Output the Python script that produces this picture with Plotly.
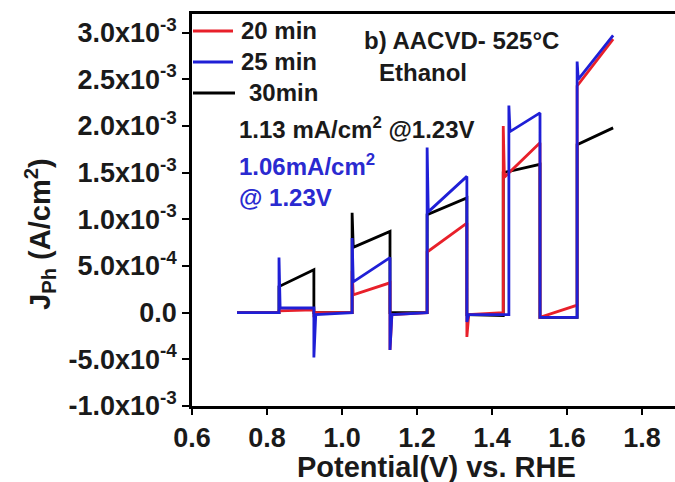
import plotly.graph_objects as go

# ---- data (x in V vs RHE, y in units of 1e-3 A/cm^2) ----
x_20 = [0.72, 0.832, 0.832, 0.925, 0.925, 0.930, 1.027, 1.027, 1.030, 1.128, 1.128, 1.133,
        1.227, 1.227, 1.333, 1.333, 1.338, 1.430, 1.430, 1.433, 1.528, 1.528, 1.627, 1.627, 1.723]
y_20 = [0.0, 0.0, 0.02, 0.03, -0.05, 0.0, 0.0, 0.45, 0.19, 0.32, -0.40, -0.02,
        0.0, 0.65, 0.96, -0.26, -0.02, 0.0, 2.00, 1.45, 1.82, -0.05, 0.08, 2.43, 2.93]

x_25 = [0.72, 0.832, 0.832, 0.835, 0.925, 0.925, 0.930, 1.027, 1.027, 1.030, 1.128, 1.128, 1.133,
        1.227, 1.227, 1.230, 1.333, 1.333, 1.338, 1.445, 1.445, 1.448, 1.528, 1.528, 1.627, 1.627,
        1.630, 1.723]
y_25 = [0.0, 0.0, 0.59, 0.05, 0.05, -0.48, -0.02, 0.0, 0.80, 0.33, 0.59, -0.40, -0.02,
        0.0, 1.77, 1.08, 1.46, -0.10, -0.02, -0.02, 2.22, 1.94, 2.14, -0.05, -0.05, 2.69,
        2.50, 2.97]

x_30 = [0.72, 0.832, 0.832, 0.925, 0.925, 1.027, 1.027, 1.030, 1.128, 1.128, 1.227, 1.227,
        1.333, 1.333, 1.430, 1.430, 1.528, 1.528, 1.627, 1.627, 1.723]
y_30 = [0.0, 0.0, 0.28, 0.46, 0.0, 0.0, 1.07, 0.70, 0.87, 0.0, 0.0, 1.05,
        1.23, -0.02, -0.03, 1.50, 1.59, -0.05, -0.05, 1.80, 1.98]

series_names = ["20 min", "25 min", "30min"]
series_colors = ["#e8202a", "#1f1fd6", "#000000"]

x_tickvals = [0.6, 0.8, 1.0, 1.2, 1.4, 1.6, 1.8]
x_ticktext = ["0.6", "0.8", "1.0", "1.2", "1.4", "1.6", "1.8"]
y_tickvals = [-1.0, -0.5, 0.0, 0.5, 1.0, 1.5, 2.0, 2.5, 3.0]
y_ticktext = ["-1.0x10<sup>-3</sup>", "-5.0x10<sup>-4</sup>", "0.0", "5.0x10<sup>-4</sup>",
              "1.0x10<sup>-3</sup>", "1.5x10<sup>-3</sup>", "2.0x10<sup>-3</sup>",
              "2.5x10<sup>-3</sup>", "3.0x10<sup>-3</sup>"]

# ---- layout geometry (pixels) ----
W, H = 675, 482
ML, MR, MT, MB = 192, 0, 14, 76
PW, PH = W - ML - MR, H - MT - MB
FONT = "Liberation Sans, Arial, sans-serif"


def px(xp):
    return (xp - ML) / PW


def py(yp):
    return (H - MB - yp) / PH


fig = go.Figure()
# draw order: black, red, blue (blue on top)
for xs, ys, name, col in [(x_30, y_30, series_names[2], series_colors[2]),
                          (x_20, y_20, series_names[0], series_colors[0]),
                          (x_25, y_25, series_names[1], series_colors[1])]:
    fig.add_trace(go.Scatter(x=xs, y=ys, mode="lines", name=name,
                             line=dict(color=col, width=2.8), showlegend=False))

shapes = []
annotations = []
# manual legend
leg = [(series_names[0], series_colors[0], 31, 233, 239),
       (series_names[1], series_colors[1], 62, 233, 239),
       (series_names[2], series_colors[2], 93, 235, 247)]
for name, col, yy, xend, xt in leg:
    shapes.append(dict(type="line", xref="paper", yref="paper", x0=px(193), x1=px(xend),
                       y0=py(yy), y1=py(yy), line=dict(color=col, width=3)))
    annotations.append(dict(text=name, xref="paper", yref="paper", x=px(xt), y=py(yy - 1),
                            xanchor="left", yanchor="middle", showarrow=False,
                            font=dict(family=FONT, size=24, color="#1a1a1a", weight="bold")))

texts = [("b) AACVD- 525°C", 362, 40, "#1a1a1a"),
         ("Ethanol", 377, 73, "#1a1a1a"),
         ("1.13 mA/cm<sup>2</sup> @1.23V", 237, 128, "#1a1a1a"),
         ("1.06mA/cm<sup>2</sup>", 237, 165, "#2a2ad0"),
         ("@ 1.23V", 237, 197, "#2a2ad0")]
for t, xx, yy, col in texts:
    annotations.append(dict(text=t, xref="paper", yref="paper", x=px(xx), y=py(yy),
                            xanchor="left", yanchor="middle", showarrow=False,
                            font=dict(family=FONT, size=24, color=col, weight="bold")))

# axis titles
annotations.append(dict(text="Potential(V) vs. RHE", xref="paper", yref="paper",
                        x=px(436), y=py(467), xanchor="center", yanchor="middle",
                        showarrow=False,
                        font=dict(family=FONT, size=29, color="#1a1a1a", weight="bold")))
annotations.append(dict(text="J<sub>Ph</sub> (A/cm<sup>2</sup>)", xref="paper", yref="paper",
                        x=px(40), y=py(234), xanchor="center", yanchor="middle",
                        textangle=-90, showarrow=False,
                        font=dict(family=FONT, size=29, color="#1a1a1a", weight="bold")))

fig.update_layout(
    width=W, height=H,
    margin=dict(l=ML, r=MR, t=MT, b=MB, pad=0),
    paper_bgcolor="white", plot_bgcolor="white",
    hovermode=False,
    shapes=shapes, annotations=annotations,
    font=dict(family=FONT, color="#1a1a1a"),
    xaxis=dict(range=[0.6, 0.6 + PW / 375.0], tickvals=x_tickvals, ticktext=x_ticktext,
               showgrid=False, zeroline=False, showline=True, linecolor="black", linewidth=2.5,
               mirror=True, ticks="outside", ticklen=6, tickwidth=2, tickcolor="black",
               tickfont=dict(family=FONT, size=27, color="#1a1a1a", weight="bold")),
    yaxis=dict(range=[-1.0, 3.2], tickvals=y_tickvals, ticktext=y_ticktext,
               showgrid=False, zeroline=False, showline=True, linecolor="black", linewidth=2.5,
               mirror=False, ticks="outside", ticklen=7, tickwidth=2, tickcolor="black",
               tickfont=dict(family=FONT, size=27, color="#1a1a1a", weight="bold")),
)

fig.write_html("out.html", config={"displayModeBar": False},
               post_script="document.body.style.margin='0';document.body.style.overflow='hidden';")
